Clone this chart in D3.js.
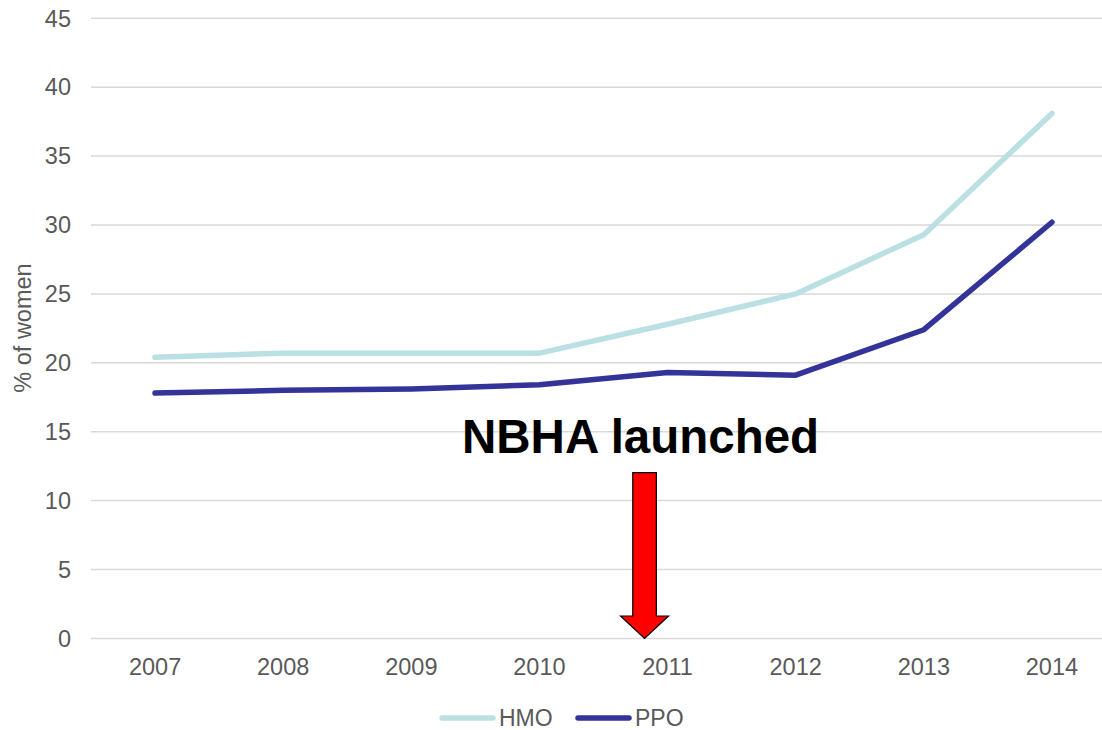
<!DOCTYPE html>
<html>
<head>
<meta charset="utf-8">
<script src="https://cdn.jsdelivr.net/npm/d3@7"></script>
<style>
  html, body { margin: 0; padding: 0; background: #ffffff; }
  svg { display: block; }
  text { font-family: "Liberation Sans", Arial, sans-serif; }
</style>
</head>
<body>
<svg id="chart" width="1102" height="730"></svg>
<script>
// Share of women, by plan type and year
const years = ["2007", "2008", "2009", "2010", "2011", "2012", "2013", "2014"];
const hmo = [20.4, 20.7, 20.7, 20.7, 22.8, 25.0, 29.3, 38.1];
const ppo = [17.8, 18.0, 18.1, 18.4, 19.3, 19.1, 22.4, 30.2];
const yTicks = [0, 5, 10, 15, 20, 25, 30, 35, 40, 45];
const seriesNames = ["HMO", "PPO"];
const seriesColors = ["#bbe0e3", "#333399"];
const launchYear = "2011";
const launchLabel = "NBHA launched";

const svg = d3.select("#chart");

const x = d3.scaleBand().domain(years).range([91, 1116]);
const y = d3.scaleLinear().domain([0, 45]).range([638.4, 18.3]);
const cx = d => x(d) + x.bandwidth() / 2;

// horizontal gridlines
svg.append("g")
  .selectAll("line")
  .data(yTicks)
  .join("line")
  .attr("x1", 91).attr("x2", 1116)
  .attr("y1", d => y(d)).attr("y2", d => y(d))
  .attr("stroke", "#d9d9d9")
  .attr("stroke-width", 1.5);

// y tick labels
svg.append("g")
  .selectAll("text")
  .data(yTicks)
  .join("text")
  .attr("x", 71)
  .attr("y", d => y(d))
  .attr("dy", "0.35em")
  .attr("text-anchor", "end")
  .attr("font-size", 23.5)
  .attr("fill", "#595959")
  .text(d => d);

// x tick labels
svg.append("g")
  .selectAll("text")
  .data(years)
  .join("text")
  .attr("x", d => cx(d))
  .attr("y", 667)
  .attr("dy", "0.35em")
  .attr("text-anchor", "middle")
  .attr("font-size", 23.5)
  .attr("fill", "#595959")
  .text(d => d);

// y axis title
svg.append("text")
  .attr("transform", "translate(23,328) rotate(-90)")
  .attr("dy", "0.35em")
  .attr("text-anchor", "middle")
  .attr("font-size", 23.5)
  .attr("fill", "#595959")
  .text("% of women");

// series lines
const line = d3.line()
  .x((d, i) => cx(years[i]))
  .y(d => y(d));

[hmo, ppo].forEach((vals, k) => {
  svg.append("path")
    .datum(vals)
    .attr("d", line)
    .attr("fill", "none")
    .attr("stroke", seriesColors[k])
    .attr("stroke-width", 5.5)
    .attr("stroke-linecap", "round")
    .attr("stroke-linejoin", "round");
});

// launch annotation, set slightly left of the 2011 category centre
const ax = cx(launchYear) - 23;
svg.append("text")
  .attr("x", ax - 4)
  .attr("y", 453)
  .attr("text-anchor", "middle")
  .attr("font-size", 47.5)
  .attr("font-weight", "bold")
  .attr("fill", "#000000")
  .text(launchLabel);

const shaftHalf = 11.8, headHalf = 24, arrowTop = 472.7, arrowNeck = 616, arrowTip = y(0);
svg.append("path")
  .attr("d", d3.line()([
    [ax - shaftHalf, arrowTop], [ax + shaftHalf, arrowTop], [ax + shaftHalf, arrowNeck],
    [ax + headHalf, arrowNeck], [ax, arrowTip], [ax - headHalf, arrowNeck],
    [ax - shaftHalf, arrowNeck]
  ]) + "Z")
  .attr("fill", "#ff0000")
  .attr("stroke", "#000000")
  .attr("stroke-width", 1.2)
  .attr("stroke-linejoin", "miter");

// legend
const legendItems = [
  { name: seriesNames[0], color: seriesColors[0], x: 440 },
  { name: seriesNames[1], color: seriesColors[1], x: 576 }
];
const lg = svg.append("g");
legendItems.forEach(it => {
  lg.append("line")
    .attr("x1", it.x + 2).attr("x2", it.x + 53)
    .attr("y1", 718).attr("y2", 718)
    .attr("stroke", it.color)
    .attr("stroke-width", 5.5)
    .attr("stroke-linecap", "round");
  lg.append("text")
    .attr("x", it.x + 59)
    .attr("y", 718)
    .attr("dy", "0.35em")
    .attr("font-size", 23)
    .attr("fill", "#595959")
    .text(it.name);
});
</script>
</body>
</html>
